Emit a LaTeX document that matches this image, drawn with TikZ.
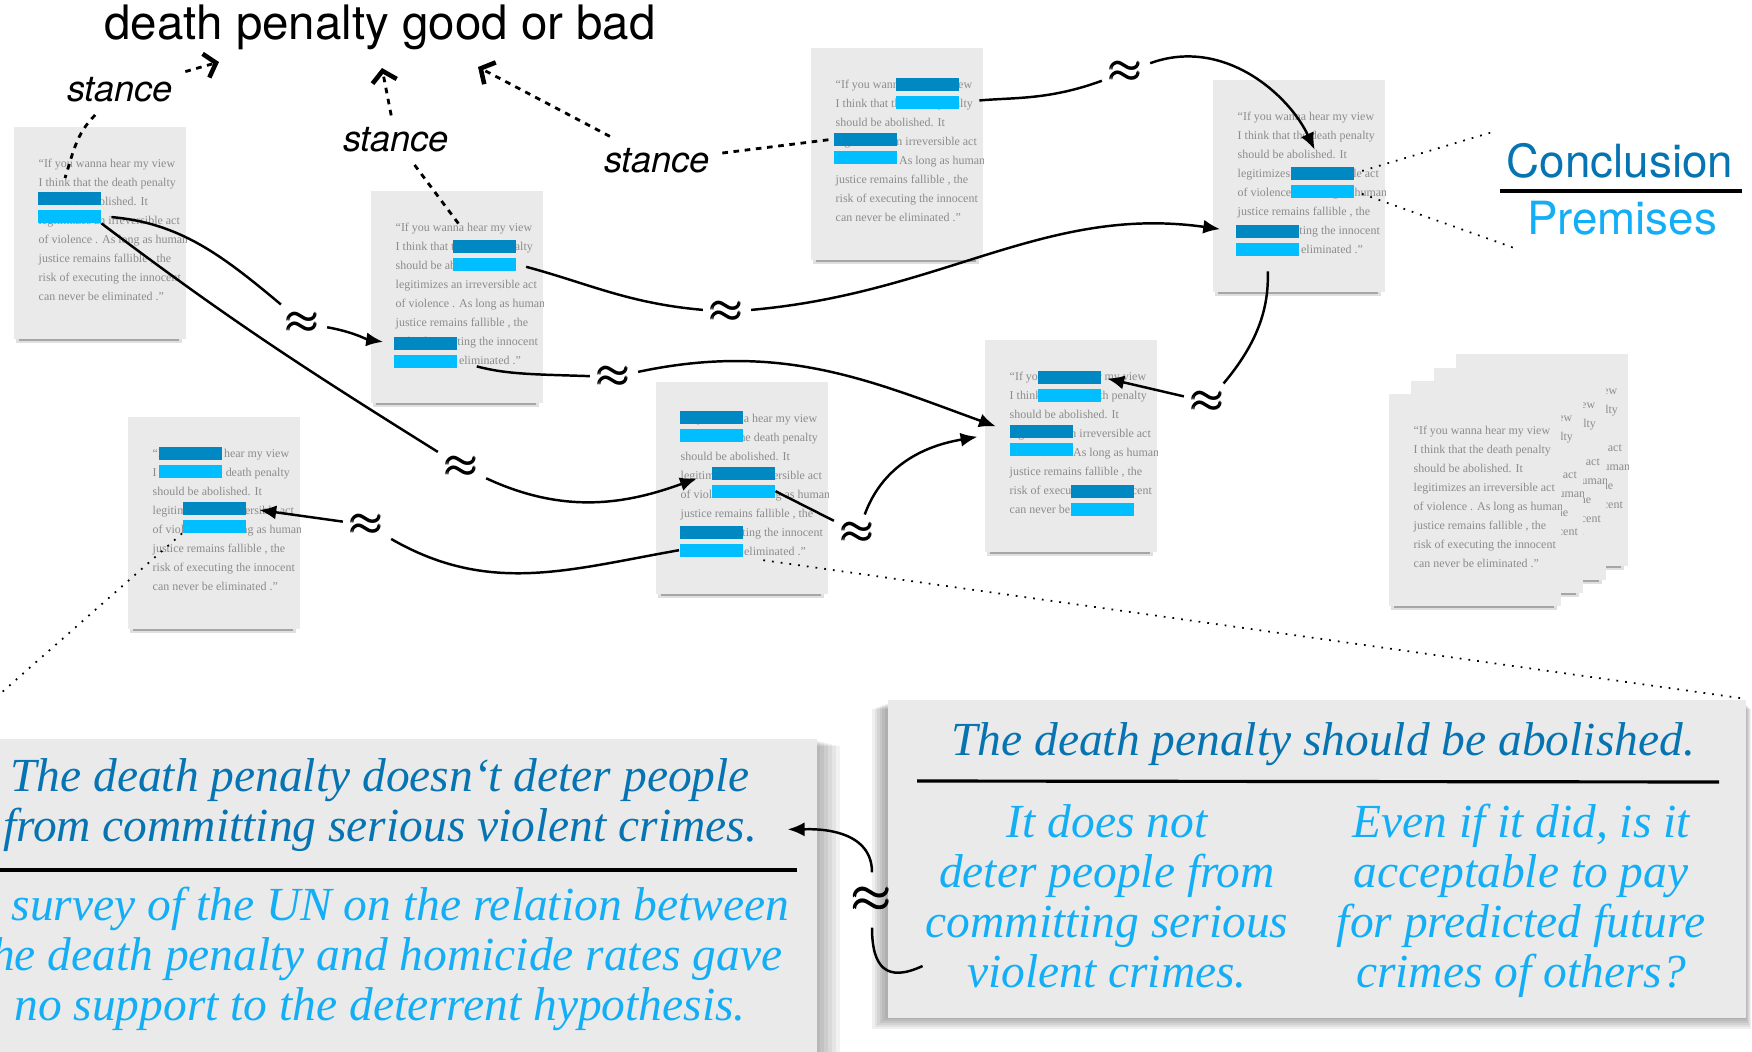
\documentclass[tikz,border=0pt]{standalone}
\usepackage{amsmath}
\usepackage{fontspec}
\setmainfont{Liberation Serif}
\newfontfamily\helv{TeX Gyre Heros}
\usetikzlibrary{arrows.meta, positioning, calc}

\definecolor{pagegray}{RGB}{234,234,234}
\definecolor{pageink}{RGB}{140,140,140}
\definecolor{concblue}{RGB}{0,136,194}
\definecolor{premblue}{RGB}{0,190,255}
\definecolor{conctext}{RGB}{6,116,178}
\definecolor{premtext}{RGB}{20,174,246}

\tikzset{
  page/.style={rectangle, fill=pagegray, inner sep=0, anchor=north west,
    minimum width=1.72cm, minimum height=2.12cm},
  pageline/.style={anchor=north west, inner sep=0, align=left, text=pageink,
    font=\fontsize{3.4}{5.4}\selectfont},
  darkbar/.style={rectangle, fill=concblue, inner sep=0, anchor=north west,
    minimum width=0.63cm, minimum height=0.13cm},
  lightbar/.style={darkbar, fill=premblue},
  approx/.style={font=\fontsize{12}{12}\selectfont, inner sep=2pt},
  link/.style={line width=0.7pt},
  arrowlink/.style={link, -{Latex[length=4.8pt,width=4pt]}},
  stance/.style={font=\helv\itshape\fontsize{10.3}{12}\selectfont, anchor=base},
  stancedash/.style={line width=0.8pt, dash pattern=on 1.6pt off 1.6pt},
  stancelink/.style={stancedash, -{Straight Barb[length=3pt,width=7pt,line width=1.3pt]}},
  legend/.style={font=\helv\fontsize{13}{15}\selectfont, anchor=base},
  claim/.style={anchor=base, inner sep=0, font=\itshape\fontsize{13.5}{14}\selectfont},
}

% heavy approximately-equal sign
\newcommand\simmark{$\pmb{\approx}$}

% the quoted view printed on every page
\newcommand\viewtext{“If you wanna hear my view\\
I think that the death penalty\\
should be abolished. It\\
legitimizes an irreversible act\\
of violence . As long as human\\
justice remains fallible , the\\
risk of executing the innocent\\
can never be eliminated .”}

% page with its shadow and text: name, x, y of top left corner
\newcommand\viewpage[3]{%
  \fill[black!12] (#2+3,#3-205) rectangle (#2+169,#3-217);
  \fill[black!35] (#2+6,#3-205) rectangle (#2+166,#3-215);
  \node[page] (#1) at (#2,#3) {};
  \begin{scope}
    \clip (#1.north west) rectangle (#1.south east);
    \node[pageline] (#1-txt) at ($(#1.north west)+(25,-32)$) {\viewtext};
  \end{scope}}

% highlighted pair: page, number, offset from the top left corner
\newcommand\bars[4]{%
  \node[darkbar] (#1-d#2) at ($(#1.north west)+(#3,-#4)$) {};
  \node[lightbar] (#1-l#2) at ($(#1.north west)+(#3,-#4-18)$) {};}

\begin{document}
\begin{tikzpicture}[x=0.01cm, y=0.01cm]
  \clip (0,0) rectangle (1752,-1052);
  \fill[white] (0,0) rectangle (1752,-1052);

  % bottom boxes with soft shadows
  \foreach \s in {1,...,6}
    \fill[black, opacity=0.05] (700,-740-\s) rectangle (816+4*\s,-1060);
  \node[page, minimum width=8.66cm, minimum height=3.5cm] (leftbox) at (-50,-738) {};
  \foreach \s in {1,...,6}
    \fill[black, opacity=0.06] (887-2.5*\s,-703-\s) rectangle (1745+\s,-1017-2*\s);
  \node[page, minimum width=8.58cm, minimum height=3.18cm] (rightbox) at (887,-699) {};

  % title and stances
  \node[font=\helv\fontsize{13.5}{16}\selectfont, anchor=base] (title) at (380,-40) {death penalty good or bad};
  \node[stance] (stance1) at (120,-102) {stance};
  \node[stance] (stance2) at (396,-152) {stance};
  \node[stance] (stance3) at (657,-173) {stance};
  \coordinate (aim1) at (219,-62);
  \coordinate (aim2) at (382,-68);
  \coordinate (aim3) at (478,-67);

  % pages
  \viewpage{pA}{13}{-126}
  \viewpage{pB}{370}{-190}
  \viewpage{pC}{810}{-47}
  \viewpage{pD}{1212}{-79}
  \viewpage{pE}{127}{-416}
  \viewpage{pF}{655}{-381}
  \viewpage{pG}{984}{-339}
  \foreach \name/\x/\y in {pH4/1455/-353, pH3/1433/-367, pH2/1410/-380, pH1/1388/-393}
    {\viewpage{\name}{\x}{\y}}

  \bars{pA}{1}{24}{65}
  \bars{pB}{1}{82}{49}
  \bars{pB}{2}{23}{146}
  \bars{pC}{1}{85}{30}
  \bars{pC}{2}{23}{85}
  \bars{pD}{1}{78}{87}
  \bars{pD}{2}{23}{145}
  \bars{pE}{1}{31}{30}
  \bars{pE}{2}{55}{85}
  \bars{pF}{1}{24}{29}
  \bars{pF}{2}{56}{85}
  \bars{pF}{3}{24}{144}
  \bars{pG}{1}{53}{31}
  \bars{pG}{2}{25}{85}
  \bars{pG}{3}{86}{145}

  \coordinate (aimA) at ($(pA.north west)+(52,-52)$);
  \coordinate (aimB) at ($(pB.north west)+(91,-37)$);

  % stance links
  \draw[stancelink] (stance1) -- (aim1);
  \draw[stancedash] (stance1) to[out=-135,in=72] (aimA);
  \draw[stancelink] (stance2) -- (aim2);
  \draw[stancedash] (stance2) -- (aimB);
  \draw[stancelink] (stance3) -- (aim3);
  \draw[stancedash] (stance3) -- (pC-d2.west);

  % similarity marks
  \node[approx] (n1) at (303,-323) {\simmark};
  \node[approx] (n2) at (462,-467) {\simmark};
  \node[approx] (n3) at (614,-377) {\simmark};
  \node[approx] (n4) at (858,-533) {\simmark};
  \node[approx] (n5) at (367,-525) {\simmark};
  \node[approx] (n6) at (1126,-72) {\simmark};
  \node[approx] (n7) at (727,-312) {\simmark};
  \node[approx] (n8) at (1208,-402) {\simmark};

  % links between argument units
  \draw[link, shorten <=0.1cm] (pA-l1.east) to[out=-5,in=140] (n1);
  \draw[arrowlink, shorten >=0.1cm] (n1) to[out=-10,in=172] (pB-d2.west);
  \draw[link] (pA-l1.south east) to[out=-37,in=148] (n2);
  \draw[arrowlink, shorten >=0.15cm] (n2) to[out=-25,in=200] (pF-d2.west);
  \draw[link, shorten <=0.2cm] (pB-l2.east) to[out=-15,in=178] (n3);
  \draw[arrowlink, shorten >=0.14cm] (n3) to[out=12,in=160] (pG-d2.west);
  \draw[link] (pF-l2.east) -- (n4);
  \draw[arrowlink, shorten >=0.32cm] (n4) to[out=70,in=190] (pG-d2.west);
  \draw[link] (pF-l3.west) to[out=190,in=-30] (n5);
  \draw[arrowlink, shorten >=0.13cm] (n5) -- (pE-d2.east);
  \draw[link, shorten <=0.2cm] (pC-l1.east) to[out=5,in=200] (n6);
  \draw[arrowlink, shorten >=0.18cm] (n6) to[out=20,in=115] (pD-d1.north);
  \draw[link, shorten <=0.1cm] (pB-l1.east) to[out=-15,in=175] (n7);
  \draw[arrowlink, shorten >=0.15cm] (n7) to[out=5,in=172] (pD-d2.west);
  \draw[link, shorten <=0.15cm] (pD-l2.south) to[out=-88,in=50] (n8);
  \draw[arrowlink, shorten >=0.06cm] (n8) -- (pG-d1.east);

  % legend
  \node[legend, text=conctext] (concl) at (1620,-178) {Conclusion};
  \draw[line width=1pt] (1500,-191) -- (1742,-191);
  \node[legend, text=premtext] (prem) at (1622,-235) {Premises};
  \draw[dotted, line width=0.5pt, shorten <=0.08cm] (pD-d1.east) -- (concl.north west);
  \draw[dotted, line width=0.5pt, shorten <=0.08cm] (pD-l1.east) -- (prem.south west);

  % zoomed-in arguments
  \draw[dotted, line width=0.5pt] (pE-l2.south west) -- (leftbox.north west);
  \draw[dotted, line width=0.5pt, shorten <=0.2cm] (pF-l3.south east) -- (rightbox.north east);

  \foreach \txt [count=\i] in {The death penalty doesn‘t deter people, from committing serious violent crimes.}
    {\node[claim, text=conctext] (lc-\i) at (380,-741-50*\i) {\txt};}
  \draw[line width=0.9pt] (-50,-870) -- (797,-870);
  \foreach \txt [count=\i] in {A survey of the UN on the relation between, the death penalty and homicide rates gave, no support to the deterrent hypothesis.}
    {\node[claim, text=premtext] (lp-\i) at (380,-870-50*\i) {\txt};}

  \node[claim, text=conctext] (rc) at (1323,-755) {The death penalty should be abolished.};
  \draw[line width=0.9pt] (917,-781) -- (1719,-782);
  \foreach \txt [count=\i] in {It does not, deter people from, committing serious, violent crimes.}
    {\node[claim, text=premtext] (rl-\i) at (1107,-787-50*\i) {\txt};}
  \foreach \txt [count=\i] in {{Even if it did, is it}, acceptable to pay, for predicted future, crimes of others?}
    {\node[claim, text=premtext] (rr-\i) at (1521,-787-50*\i) {\txt};}

  \coordinate (hookstart) at ($(rl-4.base west)+(-44,21)$);
  \node[approx, font=\fontsize{15}{15}\selectfont, inner sep=4pt] (n9) at (872,-900) {\simmark};
  \draw[link] (hookstart) to[out=-155,in=-90,looseness=1.6] (n9);
  \draw[arrowlink, shorten >=0.3cm] (n9) to[out=90,in=0] (lc-2.east);
\end{tikzpicture}
\end{document}
